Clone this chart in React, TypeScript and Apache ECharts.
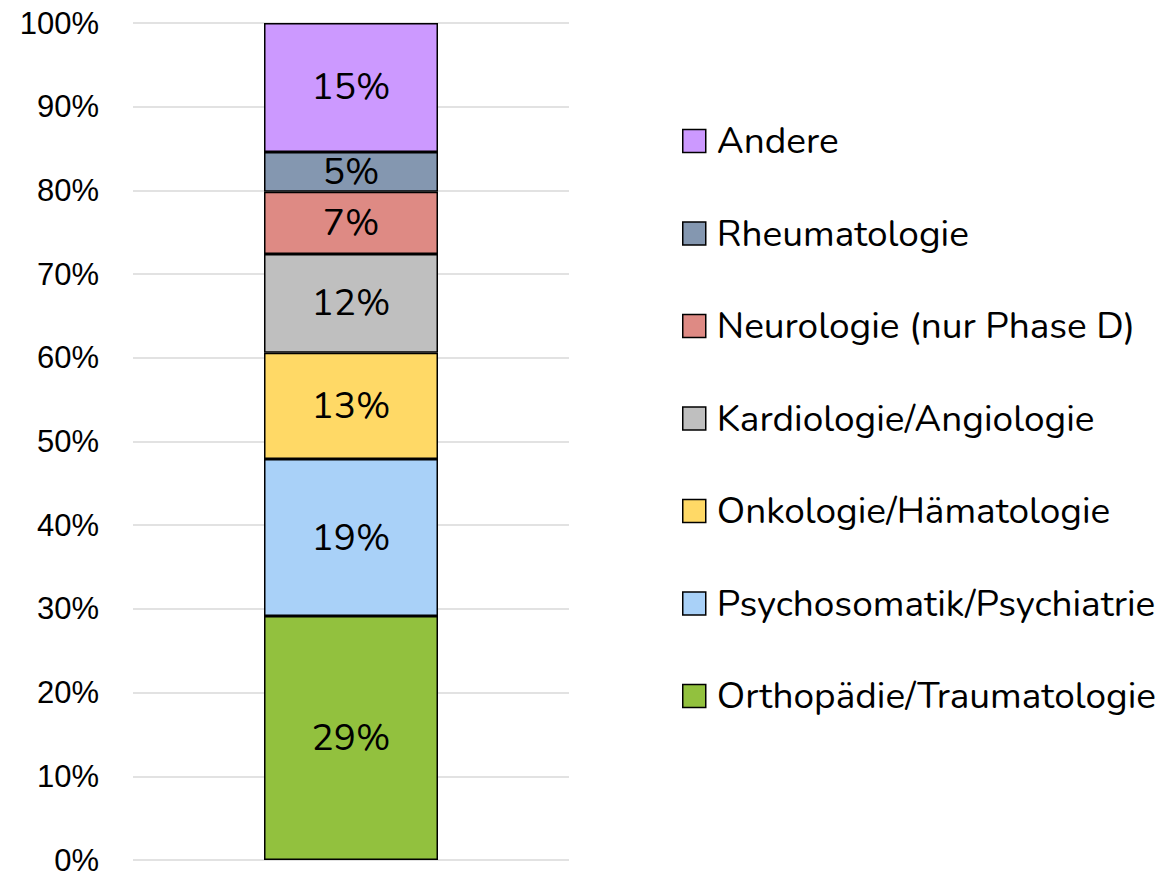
import React, { useEffect, useRef } from "react";
import * as echarts from "echarts";

const categories = ["Gesamt"];
const seriesNames = [
  "Orthopädie/Traumatologie",
  "Psychosomatik/Psychiatrie",
  "Onkologie/Hämatologie",
  "Kardiologie/Angiologie",
  "Neurologie (nur Phase D)",
  "Rheumatologie",
  "Andere",
];
const seriesValues = [29.15, 18.75, 12.7, 11.8, 7.45, 4.75, 15.4];
const seriesColors = ["#92C13E", "#A9D1F8", "#FFD966", "#BFBFBF", "#DE8A84", "#8497B0", "#CC99FF"];
const yTicks = [0, 10, 20, 30, 40, 50, 60, 70, 80, 90, 100];

const labelFont = "Nunito, Lato, sans-serif";
const axisFont = "Liberation Sans";

export default function App() {
  const ref = useRef<HTMLDivElement>(null);
  useEffect(() => {
    if (!ref.current) return;
    const chart = echarts.init(ref.current, undefined, { renderer: "svg" });
    chart.setOption({
      animation: false,
      backgroundColor: "#ffffff",
      grid: {
        left: 133,
        right: 597,
        top: 23,
        bottom: 11,
        containLabel: false,
        outerBoundsMode: "none",
      },
      xAxis: {
        type: "category",
        data: categories,
        axisLine: { show: false },
        axisTick: { show: false },
        axisLabel: { show: false },
      },
      yAxis: {
        type: "value",
        min: yTicks[0],
        max: yTicks[yTicks.length - 1],
        interval: 10,
        axisLine: { show: false },
        axisTick: { show: false },
        splitLine: { lineStyle: { color: "#D9D9D9", width: 1.5 } },
        axisLabel: {
          formatter: (v: number) => v + "%",
          fontFamily: axisFont,
          fontSize: 31,
          lineHeight: 20,
          color: "#000",
          margin: 34,
        },
      },
      legend: {
        orient: "vertical",
        left: 682,
        top: 122.5,
        padding: 0,
        data: [...seriesNames].reverse(),
        icon: "rect",
        itemWidth: 23,
        itemHeight: 23,
        itemGap: 55.5,
        itemStyle: { borderColor: "#000", borderWidth: 1.5 },
        textStyle: {
          fontFamily: labelFont,
          fontSize: 37,
          lineHeight: 37,
          color: "#000",
          padding: [0, 0, 0, 6],
        },
      },
      series: seriesNames.map((name, i) => ({
        name,
        type: "bar",
        stack: "total",
        barWidth: 174,
        data: [seriesValues[i]],
        itemStyle: { color: seriesColors[i], borderColor: "#000", borderWidth: 1.5 },
        label: {
          show: true,
          position: "inside",
          formatter: (p: any) => Math.round(p.value) + "%",
          fontFamily: labelFont,
          fontSize: 37,
          color: "#000",
        },
      })),
    });
    return () => chart.dispose();
  }, []);
  return (
    <div
      ref={ref}
      style={{ position: "fixed", left: 0, top: 0, width: 1166, height: 871 }}
    />
  );
}
